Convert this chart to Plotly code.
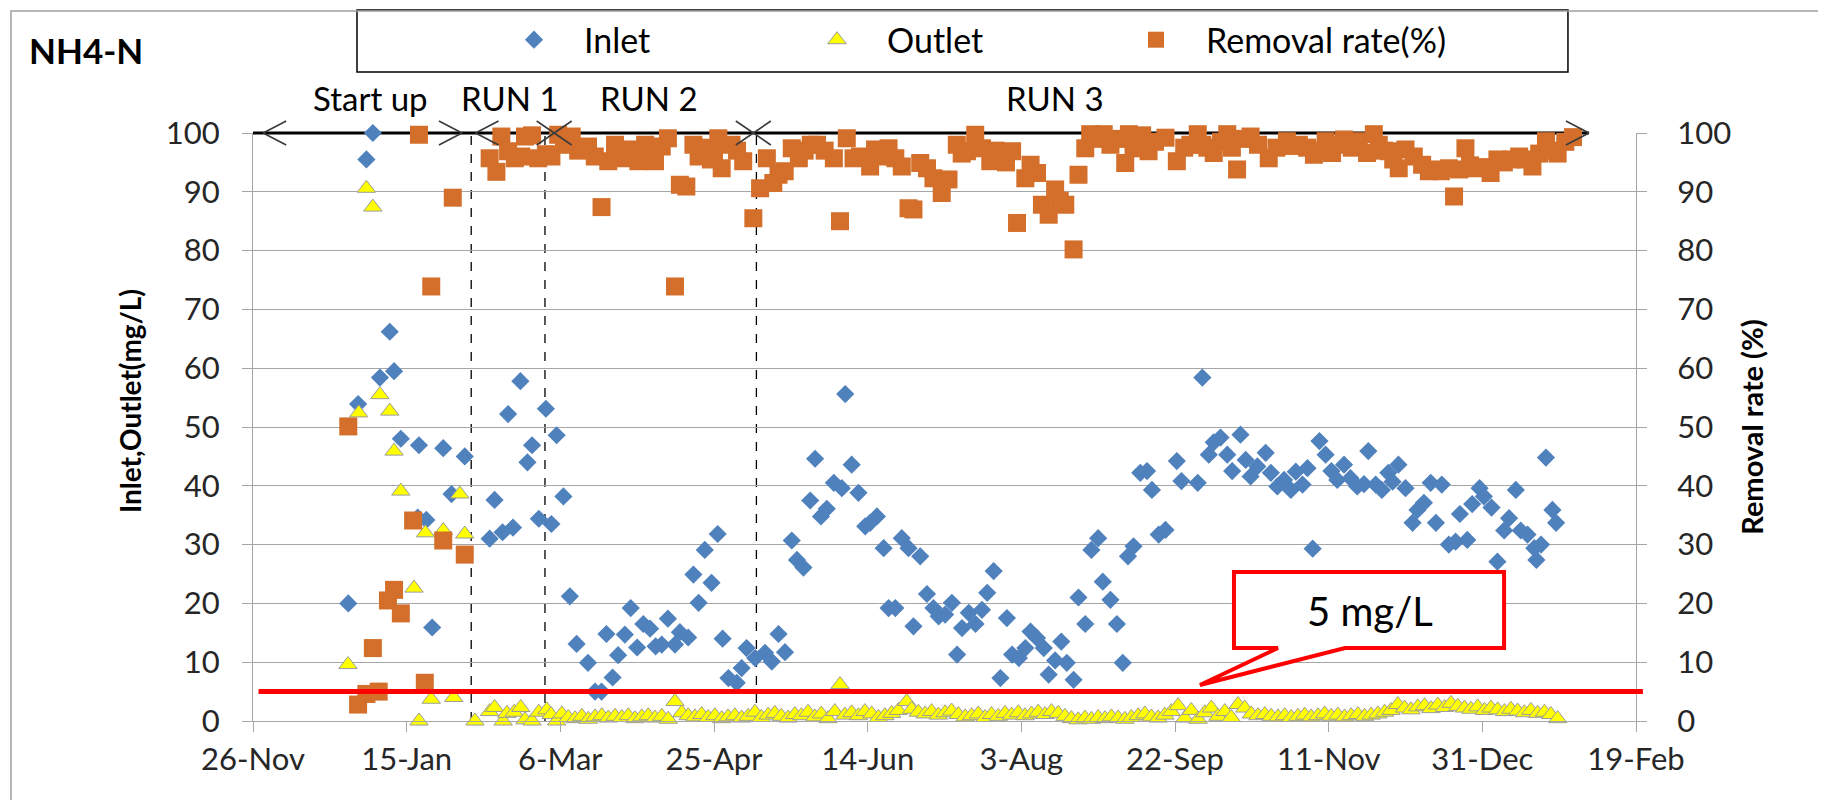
import pandas as pd
import plotly.graph_objects as go

START = pd.Timestamp("2010-11-26")
END = pd.Timestamp("2012-02-19")

# ---- Inlet NH4-N (mg/L), day offsets from START ----
inlet_day = [
    31.0, 34.2, 36.9, 39.0, 41.3, 44.5, 45.9, 48.1, 53.6, 54.0, 56.4, 58.3, 61.9, 64.6, 68.9,
    77.0, 78.6, 81.2, 83.0, 84.6, 87.0, 89.3, 90.8, 93.0, 95.3, 97.1, 98.8,
    101.0, 103.1, 105.3, 109.0, 111.3, 113.4, 115.0, 117.0, 118.8, 121.0, 122.9, 125.0, 127.0,
    129.2, 131.0, 133.0, 135.0, 137.3, 138.9, 141.6, 143.3, 145.0, 147.0, 149.2, 151.2, 152.8,
    154.7, 157.4, 159.0, 160.6, 163.4,
    166.6, 168.8, 171.0, 173.1, 175.3, 177.0, 179.1, 181.3, 182.9, 184.8, 186.7, 189.0, 191.6,
    192.7, 194.8, 197.0, 199.2, 200.8, 203.0, 205.2, 206.8, 209.0, 211.1, 213.3, 214.9, 217.1,
    219.3, 221.4, 223.1, 225.2, 227.4, 229.1, 230.7, 232.9, 235.1, 237.2, 238.9, 241.0, 243.2,
    245.3, 247.0, 249.2, 251.3, 253.0, 255.1, 257.3, 258.9, 261.0, 263.0, 264.8, 267.0, 268.6,
    270.8, 272.8, 275.0, 276.5, 279.0, 281.1, 283.0, 284.7, 286.5, 288.7, 290.9, 292.5, 294.7,
    296.9, 300.6, 302.1, 307.4, 308.9, 311.0, 312.6, 314.8, 317.0, 318.6, 321.3, 323.0, 324.6,
    326.8, 329.5, 331.2, 333.3, 335.5, 337.7, 339.3, 341.5, 343.1, 344.8, 347.0, 349.0, 350.9,
    352.8, 355.0, 357.1, 359.3, 361.5, 362.9, 365.3, 367.3, 369.4, 370.8, 372.7, 375.0, 377.3,
    378.9, 381.0, 383.2, 384.9, 386.8, 389.1, 391.3, 392.7, 395.1, 396.7, 399.1, 400.5, 403.0,
    404.9, 407.1, 408.7, 410.9, 412.5, 414.7, 416.9, 417.6, 419.1, 420.7, 422.8, 424.0,
]
inlet_mgL = [
    20.0, 53.9, 95.5, 100.0, 58.4, 66.2, 59.5, 48.0, 34.6, 46.9, 34.2, 15.9, 46.4, 38.6, 45.0,
    31.0, 37.6, 32.1, 52.2, 32.9, 57.8, 44.0, 46.9, 34.4, 53.1, 33.5, 48.6,
    38.2, 21.2, 13.1, 9.9, 5.0, 5.0, 14.8, 7.4, 11.2, 14.7, 19.2, 12.5, 16.5,
    15.7, 12.7, 13.0, 17.4, 13.0, 15.1, 14.2, 24.9, 20.1, 29.1, 23.5, 31.8, 14.0,
    7.3, 6.5, 9.0, 12.4, 10.7,
    11.6, 10.1, 14.8, 11.7, 30.7, 27.4, 26.1, 37.5, 44.6, 34.8, 36.1, 40.5, 39.6,
    55.6, 43.6, 38.8, 33.1, 33.7, 34.8, 29.4, 19.2, 19.2, 31.1, 29.4, 16.1, 28.0,
    21.6, 19.2, 17.8, 18.1, 20.1, 11.3, 15.8, 18.4, 16.5, 18.9, 21.8, 25.5, 7.3,
    17.5, 11.3, 10.7, 12.4, 15.2, 14.1, 12.4, 7.9, 10.3, 13.5, 9.9, 7.0, 21.0,
    16.5, 29.1, 31.1, 23.7, 20.6, 16.5, 9.9, 28.0, 29.7, 42.2, 42.5, 39.3, 31.7,
    32.5, 44.2, 40.8, 40.5, 58.4, 45.3, 47.4, 48.2, 45.3, 42.5, 48.7, 44.4, 41.6,
    43.3, 45.6, 42.2, 39.9, 41.0, 39.3, 42.4, 40.2, 43.0, 29.3, 47.6, 45.3, 42.5,
    41.0, 43.6, 41.3, 39.9, 40.3, 45.9, 40.2, 39.3, 42.2, 40.7, 43.6, 39.6, 33.7,
    35.9, 37.1, 40.5, 33.7, 40.2, 30.0, 30.5, 35.2, 30.8, 36.9, 39.6, 38.2, 36.3,
    27.1, 32.4, 34.5, 39.3, 32.4, 31.7, 29.4, 27.4, 30.0, 44.8, 35.9, 33.7,
]

# ---- Outlet NH4-N (mg/L) ----
outlet_day = [
    30.9, 34.4, 36.9, 39.0, 41.3, 44.5, 45.9, 48.1, 52.4, 54.0, 56.1, 58.0, 61.9, 65.3, 67.3, 68.9,
    72.2, 77.0, 78.6, 81.4, 82.6, 85.0, 87.1, 88.5, 90.8, 93.0, 95.6, 97.0, 98.8,
    100.5, 102.6, 104.8, 107.0, 109.1, 111.3, 113.5, 115.6, 117.8, 120.0, 122.1, 124.3, 126.5,
    128.6, 130.8, 133.0, 135.1, 137.3, 139.5, 141.6, 143.8, 146.0, 148.1, 150.3, 152.5, 154.6,
    156.8, 159.0, 161.1, 163.3,
    165.4, 167.6, 169.8, 171.9, 174.1, 176.3, 178.4, 180.6, 182.8, 184.9, 187.1, 189.3, 191.0,
    192.6, 194.8, 197.0, 199.1, 201.3, 203.5, 205.6, 207.8, 210.0, 212.7, 214.3, 216.5, 218.7,
    220.8, 223.0, 225.2, 227.3, 229.5,
    231.7, 233.8, 236.0, 238.2, 240.3, 242.5, 244.7, 246.8, 249.0, 251.2, 253.3, 255.5, 257.7,
    259.8, 262.0, 264.2, 266.3, 268.5, 270.7, 272.8, 275.0, 277.2, 279.3, 281.5, 283.7, 285.8,
    288.0, 290.2, 292.3, 294.5, 296.7, 298.8,
    301.0, 303.2, 305.3, 307.5, 309.7, 311.8, 314.0, 316.2, 318.3, 320.5, 322.7, 324.8, 327.0,
    329.2, 331.3, 333.5, 335.7, 337.8, 340.0, 342.2, 344.3, 346.5, 348.7, 350.8, 353.0, 355.2,
    357.3, 359.5, 361.7, 363.8,
    366.0, 368.2, 370.3, 372.5, 374.7, 376.8, 379.0, 381.2, 383.3, 385.5, 387.7, 389.8, 392.0,
    394.2, 396.3, 398.5, 400.7, 402.8, 405.0, 407.2, 409.3, 411.5, 413.7, 415.8, 418.0, 420.2,
    422.3, 424.5,
]
outlet_mgL = [
    9.6, 52.4, 90.6, 87.4, 55.5, 52.7, 45.9, 39.1, 22.6, 0.0, 32.0, 3.7, 32.4, 4.0, 38.6, 31.8,
    0.0, 1.6, 2.3, 0.0, 1.3, 1.5, 2.3, 0.2, 0.0, 1.5, 1.9, 1.1, 0.0,
    1.2, 0.6, 0.4, 0.8, 0.3, 0.7, 0.9, 0.5, 0.8, 0.6, 0.9, 0.4, 0.7,
    0.9, 0.5, 0.8, 0.3, 3.3, 1.4, 0.9, 0.7, 1.1, 0.6, 0.9, 0.4, 0.7,
    0.9, 0.5, 0.8, 1.5,
    0.6, 1.0, 1.3, 0.8, 0.5, 1.1, 0.9, 1.5, 0.7, 1.2, 0.4, 1.6, 6.2,
    1.0, 1.4, 0.9, 1.6, 1.2, 0.6, 0.9, 1.3, 1.8, 3.3, 2.0, 1.5, 1.2,
    1.6, 1.0, 1.4, 1.7, 1.1,
    0.7, 0.9, 1.2, 0.6, 1.1, 0.8, 1.3, 1.0, 1.4, 0.9, 1.2, 1.5, 1.1,
    1.6, 1.3, 0.8, 0.4, 0.2, 0.5, 0.3, 0.6, 0.4, 0.7, 0.5, 0.3, 0.6,
    0.9, 1.2, 0.7, 0.5, 1.0, 1.6,
    2.6, 0.5, 1.8, 0.3, 1.4, 2.2, 0.8, 1.6, 0.6, 2.8, 2.2, 1.2, 0.9,
    1.1, 0.8, 0.7, 0.9, 0.6, 0.8, 1.0, 0.7, 0.9, 1.2, 0.8, 1.0, 0.7,
    0.9, 1.1, 0.8, 1.0,
    1.2, 1.5, 1.8, 2.8, 2.2, 1.9, 2.4, 2.6, 2.1, 2.7, 2.3, 3.0, 2.5,
    2.2, 2.0, 2.4, 1.8, 2.2, 1.9, 1.6, 2.0, 1.7, 1.4, 1.8, 1.3, 1.5,
    1.1, 0.4,
]

# ---- Removal rate (%) ----
removal_day = [
    31.0, 34.2, 36.9, 39.0, 40.9, 43.9, 45.9, 48.1, 52.1, 54.0, 55.9, 58.0, 61.9, 65.0, 68.9,
    77.0, 79.2, 80.8, 83.0, 85.2, 87.3, 88.5, 90.8, 92.8, 95.3, 97.1, 99.3,
    101.2, 103.7, 105.8, 109.0, 111.2, 113.4, 115.6, 117.8, 120.0, 122.0, 123.4, 125.4, 127.6,
    129.0, 130.8, 133.0, 135.0, 137.3, 138.9, 141.0, 143.3, 145.0, 147.0, 149.0, 150.0, 151.4,
    152.5, 155.7, 157.5, 159.5, 162.8,
    165.0, 167.2, 169.3, 171.0, 173.0, 175.3, 177.6, 179.5, 181.5, 183.5, 186.0, 189.0, 191.0,
    193.2, 195.4, 197.5, 200.8, 202.4, 204.5, 206.8, 209.0, 211.1, 213.3, 214.9, 217.1, 219.3,
    221.4, 224.1, 226.3, 229.0, 230.6, 232.3, 235.0, 237.2, 239.9, 241.6, 243.2, 245.0, 247.0,
    248.6, 251.3, 253.0, 255.1, 256.7, 258.9, 261.0, 262.5, 264.3, 267.0, 268.6, 270.8, 272.4,
    274.5, 276.8, 279.0, 281.5, 283.8, 285.0, 286.5, 289.3, 291.4, 293.5, 296.9, 300.6, 303.0,
    305.0, 307.4, 308.9, 310.5, 312.6, 315.0, 317.0, 318.5, 320.2, 322.5, 324.6, 327.0, 330.5,
    333.0, 336.4, 338.5, 340.3, 343.0, 345.2, 347.0, 349.0, 351.1, 353.0, 355.0, 357.5, 359.8,
    362.5, 364.7, 366.3, 368.0, 369.6, 371.0, 372.8, 375.0, 377.7, 380.4, 382.6, 384.5, 386.5,
    389.1, 390.8, 392.5, 394.5, 396.0, 397.8, 400.0, 402.7, 404.9, 407.0, 409.5, 412.0, 414.0,
    416.3, 418.5, 420.7, 422.5, 424.5, 427.0, 429.5,
]
removal_pct = [
    50.1, 2.8, 4.6, 12.4, 5.0, 20.5, 22.3, 18.3, 34.1, 99.7, 6.5, 73.9, 30.7, 89.0, 28.3,
    95.7, 93.4, 99.4, 96.9, 95.7, 96.0, 99.4, 99.6, 95.7, 96.4, 96.0, 99.7,
    98.0, 99.4, 97.0, 97.7, 96.0, 87.4, 95.2, 98.0, 95.7, 97.2, 96.3, 95.2, 98.0,
    97.0, 95.2, 97.7, 99.1, 73.9, 91.2, 90.9, 98.0, 96.0, 97.5, 95.5, 96.9, 99.1,
    94.0, 98.0, 97.0, 95.2, 85.5,
    90.6, 95.7, 91.5, 92.9, 93.5, 97.4, 95.7, 97.0, 98.0, 98.0, 97.0, 95.7, 85.0,
    99.1, 95.7, 96.0, 94.3, 97.2, 96.0, 97.4, 95.7, 94.3, 87.2, 87.0, 94.9, 94.0,
    92.3, 89.8, 92.1, 98.0, 96.5, 96.9, 99.7, 97.4, 95.2, 97.0, 96.3, 95.0, 96.9,
    84.7, 92.3, 94.6, 93.2, 87.8, 86.1, 90.4, 88.5, 87.8, 80.2, 92.9, 97.4, 99.8,
    99.0, 99.8, 98.0, 99.0, 94.9, 99.8, 97.4, 99.6, 96.9, 98.5, 99.2, 95.2, 97.5,
    98.0, 99.8, 98.0, 97.5, 96.6, 98.5, 99.8, 97.5, 93.8, 99.0, 99.4, 98.0, 95.7,
    97.5, 98.6, 97.8, 98.0, 97.5, 96.3, 97.0, 98.6, 96.6, 98.0, 98.9, 97.5, 98.6,
    96.6, 99.8, 98.0, 97.0, 96.9, 95.5, 94.0, 97.2, 96.0, 94.6, 93.5, 93.8, 93.5,
    94.0, 89.2, 93.8, 97.4, 94.5, 94.0, 94.2, 93.2, 95.5, 95.0, 95.5, 96.0, 95.5,
    94.3, 96.5, 98.6, 97.0, 96.5, 98.5, 99.3,
]

# ---- operating phases ----
phase_labels = ["Start up", "RUN 1", "RUN 2", "RUN 3"]
phase_label_day = [38.3, 83.6, 128.8, 261.0]
arrow_day = [3.3, 68.0, 72.4, 98.0, 162.8, 434.7]
arrow_kind = ["<", ">", "<", "x", "x", ">"]
divider_day = [71.0, 95.0, 163.8]
LIMIT_MGL = 5


def as_dates(days):
    return [START + pd.Timedelta(days=d) for d in days]


FONT = "Lato"
TXT = "#262626"
AX = "#A6A6A6"

fig = go.Figure()
fig.add_trace(
    go.Scatter(
        x=as_dates(inlet_day), y=inlet_mgL, mode="markers", name="Inlet",
        marker=dict(symbol="diamond", size=14, color="#4F81BD", line=dict(width=0)),
        cliponaxis=False, legend="legend", showlegend=True,
    )
)
fig.add_trace(
    go.Scatter(
        x=as_dates(outlet_day), y=outlet_mgL, mode="markers", name="Outlet",
        marker=dict(symbol="triangle-up", size=16, color="#FFFF00",
                    line=dict(color="#9C9C9C", width=1)),
        cliponaxis=False, legend="legend2", showlegend=True,
    )
)
fig.add_trace(
    go.Scatter(
        x=as_dates(removal_day), y=removal_pct, mode="markers", name="Removal rate(%)",
        marker=dict(symbol="square", size=18, color="#D46F2B", line=dict(width=0)),
        cliponaxis=False, yaxis="y2", legend="legend3", showlegend=True,
    )
)

# 100 % line with phase arrows
ARM_D = 7.5       # days
ARM_Y = 0.0204    # paper units (~12 px)
XARM_D = 5.7
line_k = dict(color="#000000", width=3)
chev = dict(color="#3A3A3A", width=1.6)
fig.add_shape(type="line", xref="x", yref="paper", x0=START, x1=START + pd.Timedelta(days=arrow_day[-1]),
              y0=1, y1=1, line=line_k, layer="between")
for d, kind in zip(arrow_day, arrow_kind):
    t = START + pd.Timedelta(days=d)
    if kind == "x":
        a, b = START + pd.Timedelta(days=d - XARM_D), START + pd.Timedelta(days=d + XARM_D)
        fig.add_shape(type="line", xref="x", yref="paper", x0=a, x1=b, y0=1 - ARM_Y, y1=1 + ARM_Y, line=chev)
        fig.add_shape(type="line", xref="x", yref="paper", x0=a, x1=b, y0=1 + ARM_Y, y1=1 - ARM_Y, line=chev)
    else:
        back = START + pd.Timedelta(days=d + (ARM_D if kind == "<" else -ARM_D))
        for s in (1, -1):
            fig.add_shape(type="line", xref="x", yref="paper", x0=t, x1=back,
                          y0=1, y1=1 + s * ARM_Y, line=chev)

for d in divider_day:
    t = START + pd.Timedelta(days=d)
    fig.add_shape(type="line", xref="x", yref="paper", x0=t, x1=t, y0=0, y1=1,
                  line=dict(color="#000000", width=1.3, dash="dash"), layer="between")

for name, d in zip(phase_labels, phase_label_day):
    fig.add_annotation(x=START + pd.Timedelta(days=d), y=1.0595, xref="x", yref="paper",
                       text=name, showarrow=False, font=dict(family=FONT, size=33, color="#000"),
                       xanchor="center", yanchor="middle")

# 5 mg/L limit line and callout
fig.add_shape(type="line", xref="paper", yref="y", x0=0.004, x1=1.005, y0=LIMIT_MGL, y1=LIMIT_MGL,
              line=dict(color="#FF0000", width=5))
fig.add_shape(
    type="path", xref="paper", yref="paper",
    path="M0.7093,0.1241 L0.7093,0.2534 L0.9046,0.2534 L0.9046,0.1241 L0.7896,0.1241 "
         "L0.6847,0.0612 L0.7411,0.1241 Z",
    line=dict(color="#FF0000", width=4), fillcolor="#FFFFFF",
)
fig.add_annotation(x=0.8077, y=0.187, xref="paper", yref="paper", text="5 mg/L", showarrow=False,
                   xanchor="center", yanchor="middle",
                   font=dict(family=FONT, size=40, color="#000"))

# title and axis titles
fig.add_annotation(x=-0.1208, y=1.141, xref="paper", yref="paper", text="<b>NH4-N</b>",
                   xanchor="center", yanchor="middle",
                   showarrow=False, font=dict(family=FONT, size=35, color="#000"))
fig.add_annotation(x=-0.089, y=0.544, xref="paper", yref="paper", text="<b>Inlet,Outlet(mg/L)</b>",
                   xanchor="center", yanchor="middle",
                   textangle=-90, showarrow=False, font=dict(family=FONT, size=28, color="#000"))
fig.add_annotation(x=1.083, y=0.5, xref="paper", yref="paper", text="<b>Removal rate (%)</b>",
                   xanchor="center", yanchor="middle",
                   textangle=-90, showarrow=False, font=dict(family=FONT, size=29, color="#000"))

# legend box and outer frame
fig.add_shape(type="rect", xref="paper", yref="paper", x0=0.0752, x1=0.9508, y0=1.1037, y1=1.2092,
              line=dict(color="#000000", width=1.5))
fig.add_shape(type="rect", xref="paper", yref="paper", x0=-0.1750, x1=1.1410, y0=-0.1429, y1=1.2075,
              line=dict(color="#A0A0A0", width=1.5))

leg = dict(orientation="h", yanchor="middle", y=1.158, xanchor="left", bgcolor="rgba(0,0,0,0)",
           borderwidth=0, itemwidth=90, font=dict(family=FONT, size=34, color="#000"))
fig.update_layout(
    width=1826, height=800,
    margin=dict(l=245, r=198, t=125, b=87, autoexpand=False),
    paper_bgcolor="white", plot_bgcolor="white",
    font=dict(family=FONT, size=31, color=TXT),
    showlegend=True,
    legend=dict(leg, x=(526 - 50 - 245) / 1383),
    legend2=dict(leg, x=(829 - 50 - 245) / 1383),
    legend3=dict(leg, x=(1148 - 50 - 245) / 1383),
    xaxis=dict(
        type="date", range=[START, END], tick0=START, dtick=50 * 86400000,
        tickformat="%-d-%b", showgrid=False, zeroline=False, automargin=False,
        showline=True, linecolor=AX, linewidth=1.3,
        ticks="outside", ticklen=10, tickcolor=AX, tickwidth=1.3, ticklabelstandoff=1,
        tickfont=dict(family=FONT, size=31, color=TXT),
    ),
    yaxis=dict(
        range=[0, 100], dtick=10, showgrid=True, gridcolor=AX, gridwidth=1.3, zeroline=False,
        showline=True, linecolor=AX, linewidth=1.3, automargin=False,
        ticks="outside", ticklen=10, tickcolor=AX, tickwidth=1.3, ticklabelstandoff=16,
        tickfont=dict(family=FONT, size=31, color=TXT),
    ),
    yaxis2=dict(
        range=[0, 100], dtick=10, overlaying="y", side="right", showgrid=False, zeroline=False,
        showline=True, linecolor=AX, linewidth=1.3, automargin=False,
        ticks="outside", ticklen=10, tickcolor=AX, tickwidth=1.3, ticklabelstandoff=24,
        tickfont=dict(family=FONT, size=31, color=TXT),
    ),
)

fig.write_html("out.html")
